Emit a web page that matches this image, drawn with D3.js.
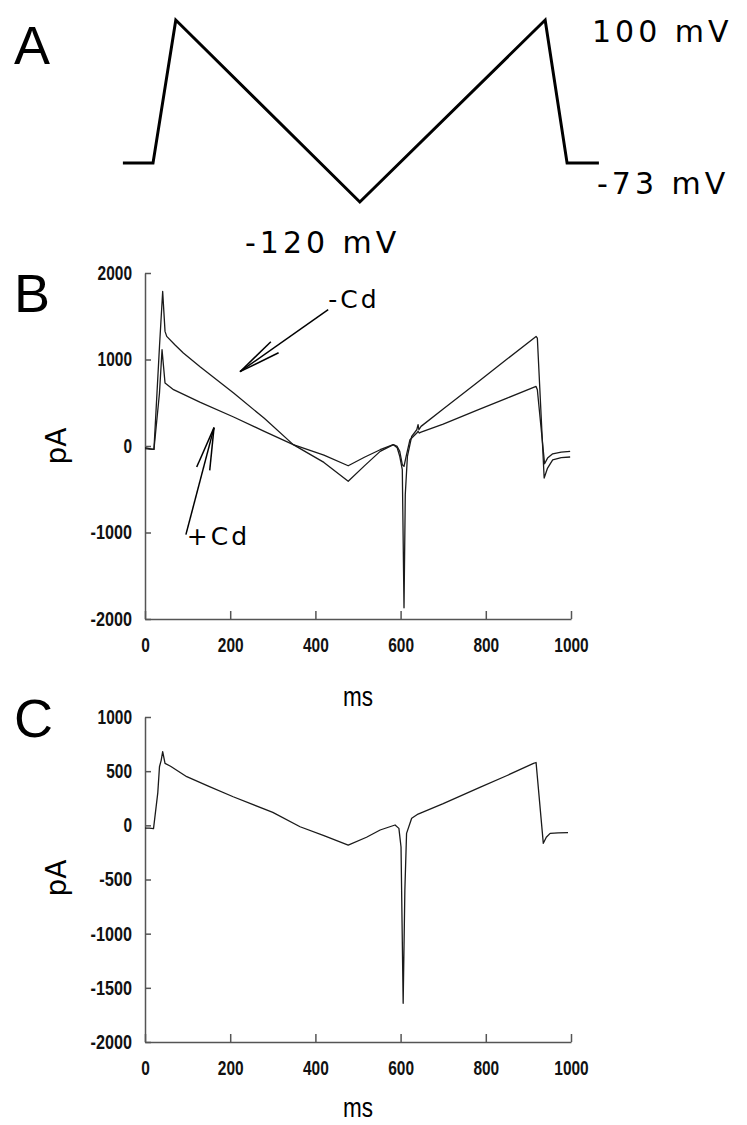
<!DOCTYPE html>
<html>
<head>
<meta charset="utf-8">
<script src="https://cdn.jsdelivr.net/npm/d3@7"></script>
<style>
  body { margin: 0; background: #fff; }
  svg { display: block; }
</style>
</head>
<body>
<script>
const width = 747;
const height = 1125;

// panel A: voltage protocol (ms, mV)
const protoTime = [-70, 0, 53, 481, 912, 963, 1037];
const protoVolt = [-73, -73, 100, -120, 100, -73, -73];

// panel B: -Cd trace (ms, pA)
const minusCdTime = [0, 10, 21, 34, 41.5, 47, 51, 70, 90, 130, 208, 280, 348, 420, 477, 515, 552, 583, 592, 598, 604, 608, 611, 616, 626, 638, 641, 643, 648, 700, 780, 850, 918, 921, 937, 945, 957, 977, 998];
const minusCdVals = [-20, -30, -40, 1150, 1787, 1325, 1267, 1170, 1075, 913, 613, 320, 16, -190, -408, -230, -62, 15, -20, -120, -273, -1870, -560, -120, 111, 188, 246, 188, 227, 427, 735, 1005, 1267, 1248, -370, -255, -160, -135, -127];

// panel B: +Cd trace (ms, pA)
const plusCdTime = [0, 10, 21, 34, 40, 47, 67, 130, 208, 280, 348, 420, 477, 515, 552, 583, 592, 598, 604, 608, 613, 622, 638, 641, 644, 648, 700, 780, 850, 918, 921, 938, 945, 957, 977, 998];
const plusCdVals = [-30, -35, -40, 613, 1113, 728, 651, 505, 335, 170, 16, -105, -228, -130, -43, 15, -5, -62, -216, -236, -120, 73, 150, 170, 150, 160, 254, 414, 554, 689, 650, -205, -140, -90, -70, -62];

// panel C: difference trace (ms, pA)
const diffTime = [0, 10, 20, 30, 34, 38, 41.5, 47, 60, 98, 150, 207, 300, 364, 420, 477, 520, 552, 587, 596, 601, 606, 610, 614, 626, 641, 700, 786, 850, 912, 918, 935, 942, 951, 970, 993];
const diffVals = [-25, -25, -30, 300, 541, 600, 680, 572, 545, 449, 360, 264, 120, -13, -95, -182, -110, -43, 3, -28, -200, -1643, -600, -74, 65, 104, 200, 350, 460, 572, 580, -166, -110, -74, -70, -68];

const ticksX = [0, 200, 400, 600, 800, 1000];
const ticksYB = [-2000, -1000, 0, 1000, 2000];
const ticksYC = [-2000, -1500, -1000, -500, 0, 500, 1000];

const svg = d3.select('body')
    .append('svg')
    .attr('width', width)
    .attr('height', height);

svg.append('rect')
    .attr('width', width)
    .attr('height', height)
    .attr('fill', '#fff');

const bigFont = '"Liberation Sans", Arial, sans-serif';
const roundFont = '"DejaVu Sans", sans-serif';

const panelLabel = (txt, y) => {
    svg.append('text')
        .attr('x', 14)
        .attr('y', y)
        .attr('font-family', bigFont)
        .attr('font-size', 54)
        .attr('fill', '#000')
        .text(txt);
};
panelLabel('A', 64);
panelLabel('B', 312);
panelLabel('C', 737);

// ---------- panel A ----------
const xA = d3.scaleLinear().domain([0, 1000]).range([153, 583]);
const yA = d3.scaleLinear().domain([-120, 100]).range([202, 20]);

svg.append('path')
    .datum(d3.range(protoTime.length))
    .attr('d', d3.line().x((i) => xA(protoTime[i])).y((i) => yA(protoVolt[i])))
    .attr('fill', 'none')
    .attr('stroke', '#000')
    .attr('stroke-width', 3)
    .attr('stroke-linejoin', 'miter');

const mvLabel = (txt, x, y) => {
    svg.append('text')
        .attr('x', x)
        .attr('y', y)
        .attr('font-family', roundFont)
        .attr('font-size', 30)
        .attr('letter-spacing', 4)
        .attr('fill', '#000')
        .text(txt);
};
mvLabel('100 mV', 592, 42);
mvLabel('-73 mV', 597, 194);
mvLabel('-120 mV', 245, 253);

// ---------- shared helpers ----------
// squeeze tick labels to look like a narrow face
const narrowLen = (s) => s.replace('-', '').length * 8.6 + (s.includes('-') ? 7 : 0);

const drawAxes = (x, y, yTicks, bottom) => {
    const gx = svg.append('g')
        .attr('transform', `translate(0,${bottom})`)
        .call(d3.axisBottom(x).tickValues(ticksX).tickFormat((d) => String(d))
            .tickSizeInner(-8).tickSizeOuter(0).tickPadding(19));
    const gy = svg.append('g')
        .attr('transform', `translate(${x(0)},0)`)
        .call(d3.axisLeft(y).tickValues(yTicks).tickFormat((d) => String(d))
            .tickSizeInner(-6).tickSizeOuter(0).tickPadding(13));
    [gx, gy].forEach((g) => {
        g.selectAll('path, line').attr('stroke', '#555').attr('stroke-width', 1.5);
        g.selectAll('text')
            .attr('font-family', bigFont)
            .attr('font-weight', 'bold')
            .attr('font-size', 20)
            .attr('fill', '#111')
            .attr('textLength', (d) => narrowLen(String(d)))
            .attr('lengthAdjust', 'spacingAndGlyphs');
    });
};

const drawTrace = (x, y, t, v) => {
    svg.append('path')
        .datum(d3.range(t.length))
        .attr('d', d3.line().x((i) => x(t[i])).y((i) => y(v[i])))
        .attr('fill', 'none')
        .attr('stroke', '#1a1a1a')
        .attr('stroke-width', 1.3)
        .attr('stroke-linejoin', 'round');
};

const axisTitles = (cx, cy, msY) => {
    svg.append('text')
        .attr('transform', `translate(${cx},${cy}) rotate(-90)`)
        .attr('text-anchor', 'middle')
        .attr('font-family', roundFont)
        .attr('font-size', 28)
        .attr('fill', '#000')
        .text('pA');
    svg.append('text')
        .attr('x', 343)
        .attr('y', msY)
        .attr('font-family', bigFont)
        .attr('font-size', 27)
        .attr('textLength', 30)
        .attr('lengthAdjust', 'spacingAndGlyphs')
        .attr('fill', '#000')
        .text('ms');
};

// open arrow given in data coordinates, head drawn in pixels
const arrow = (x, y, from, to) => {
    const x0 = x(from[0]), y0 = y(from[1]);
    const x1 = x(to[0]), y1 = y(to[1]);
    const ang = Math.atan2(y0 - y1, x0 - x1);
    const len = 43, spread = 9 * Math.PI / 180;
    const g = svg.append('g')
        .attr('stroke', '#000')
        .attr('stroke-width', 1.5)
        .attr('fill', 'none');
    g.append('line').attr('x1', x0).attr('y1', y0).attr('x2', x1).attr('y2', y1);
    [-spread, spread].forEach((s) => {
        g.append('line')
            .attr('x1', x1)
            .attr('y1', y1)
            .attr('x2', x1 + len * Math.cos(ang + s))
            .attr('y2', y1 + len * Math.sin(ang + s));
    });
};

// ---------- panel B ----------
const xB = d3.scaleLinear().domain([0, 1000]).range([145, 571]);
const yB = d3.scaleLinear().domain([-2000, 2000]).range([619, 273]);

drawAxes(xB, yB, ticksYB, 619);
drawTrace(xB, yB, minusCdTime, minusCdVals);
drawTrace(xB, yB, plusCdTime, plusCdVals);
axisTitles(66, 446, 706);

arrow(xB, yB, [430, 1577], [223, 859]);
arrow(xB, yB, [96, -1025], [162, 212]);

svg.append('text')
    .attr('x', xB(430))
    .attr('y', yB(1600))
    .attr('font-family', roundFont)
    .attr('font-size', 25)
    .attr('letter-spacing', 3)
    .text('-Cd');
svg.append('text')
    .attr('x', xB(98))
    .attr('y', yB(-1141))
    .attr('font-family', roundFont)
    .attr('font-size', 25)
    .attr('letter-spacing', 3)
    .text('+Cd');

// ---------- panel C ----------
const xC = d3.scaleLinear().domain([0, 1000]).range([145, 571]);
const yC = d3.scaleLinear().domain([-2000, 1000]).range([1042, 717]);

drawAxes(xC, yC, ticksYC, 1042);
drawTrace(xC, yC, diffTime, diffVals);
axisTitles(66, 878, 1117);
</script>
</body>
</html>
